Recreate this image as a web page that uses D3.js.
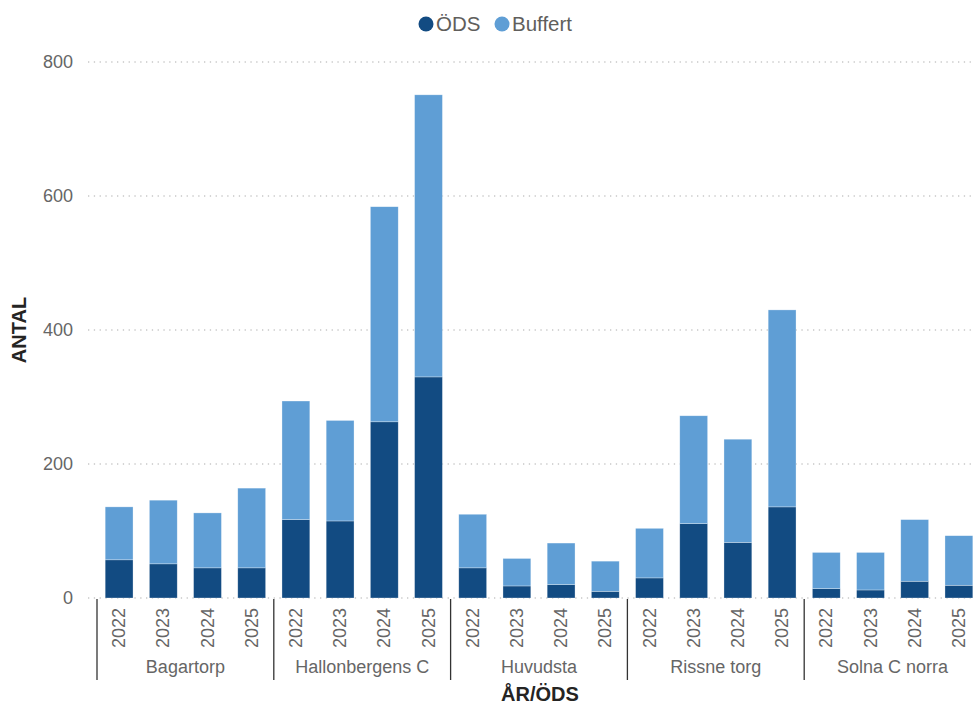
<!DOCTYPE html>
<html>
<head>
<meta charset="utf-8">
<script src="https://cdn.jsdelivr.net/npm/d3@7"></script>
<style>
  body { margin: 0; background: #fff; }
  text { font-family: "Liberation Sans", Arial, sans-serif; }
</style>
</head>
<body>
<div id="chart"></div>
<script>
// data
const groups = ["Bagartorp", "Hallonbergens C", "Huvudsta", "Rissne torg", "Solna C norra"];
const years = ["2022", "2023", "2024", "2025"];
const ods = [57, 51, 45, 45, 117, 115, 263, 330, 45, 18, 20, 10, 30, 111, 83, 136, 14, 12, 25, 19];
const buffert = [79, 95, 82, 119, 177, 150, 321, 421, 80, 41, 62, 45, 74, 161, 154, 294, 54, 56, 92, 74];
const yTicks = [0, 200, 400, 600, 800];

const W = 974, H = 706;
const margin = { top: 62, right: -7, bottom: 108, left: 97 };
const width = W - margin.left - margin.right,
    height = H - margin.top - margin.bottom;

const C_ODS = "#124b82", C_BUF = "#5f9ed5";

const rows = [];
groups.forEach((g, gi) => years.forEach((y, yi) => {
    const i = gi * years.length + yi;
    rows.push({ key: g + "|" + y, group: g, year: y, ods: ods[i], buffert: buffert[i] });
}));

const svg = d3.select("#chart").append("svg")
    .attr("width", W)
    .attr("height", H);

const g = svg.append("g")
    .attr("transform", `translate(${margin.left},${margin.top})`);

const x = d3.scaleBand()
    .domain(rows.map(d => d.key))
    .range([0, width])
    .paddingInner(0.37)
    .paddingOuter(0.185);

const y = d3.scaleLinear()
    .domain([0, 800])
    .range([height, 0]);

// gridlines
g.append("g")
    .selectAll("line")
    .data(yTicks)
    .enter().append("line")
    .attr("x1", -9)
    .attr("x2", width)
    .attr("y1", d => y(d))
    .attr("y2", d => y(d))
    .attr("stroke", "#c8c8c8")
    .attr("stroke-width", 1.3)
    .attr("stroke-dasharray", "1.3 4.5");

// y tick labels
g.append("g")
    .selectAll("text")
    .data(yTicks)
    .enter().append("text")
    .attr("x", -24)
    .attr("y", d => y(d))
    .attr("dy", "0.35em")
    .attr("text-anchor", "end")
    .attr("font-size", 18)
    .attr("fill", "#666")
    .text(d => d);

// stacked bars
const stack = d3.stack().keys(["ods", "buffert"])(rows);
const colors = { ods: C_ODS, buffert: C_BUF };
g.append("g")
    .selectAll("g")
    .data(stack)
    .enter().append("g")
    .attr("fill", s => colors[s.key])
    .selectAll("rect")
    .data(s => s)
    .enter().append("rect")
    .attr("x", d => x(d.data.key))
    .attr("width", x.bandwidth())
    .attr("y", d => y(d[1]))
    .attr("height", d => y(d[0]) - y(d[1]))
    .attr("stroke", "#fff")
    .attr("stroke-opacity", 0.5)
    .attr("stroke-width", 0.6);

// year labels
g.append("g")
    .selectAll("text")
    .data(rows)
    .enter().append("text")
    .attr("transform", d => `translate(${x(d.key) + x.bandwidth() / 2 + 6},${height + 10}) rotate(-90)`)
    .attr("text-anchor", "end")
    .attr("font-size", 18)
    .attr("fill", "#666")
    .text(d => d.year);

// group separators and labels
const groupW = x.step() * years.length;
g.append("g")
    .selectAll("line")
    .data(groups)
    .enter().append("line")
    .attr("x1", (d, i) => i * groupW)
    .attr("x2", (d, i) => i * groupW)
    .attr("y1", height + 1)
    .attr("y2", height + 82)
    .attr("stroke", "#333")
    .attr("stroke-width", 1.3);

g.append("g")
    .selectAll("text")
    .data(groups)
    .enter().append("text")
    .attr("x", (d, i) => i * groupW + groupW / 2)
    .attr("y", height + 75)
    .attr("text-anchor", "middle")
    .attr("font-size", 18)
    .attr("fill", "#666")
    .text(d => d);

// axis titles
svg.append("text")
    .attr("transform", `translate(26, ${margin.top + height / 2}) rotate(-90)`)
    .attr("text-anchor", "middle")
    .attr("font-size", 20)
    .attr("font-weight", "bold")
    .attr("fill", "#252423")
    .text("ANTAL");

svg.append("text")
    .attr("x", 540)
    .attr("y", 701)
    .attr("text-anchor", "middle")
    .attr("font-size", 20)
    .attr("font-weight", "bold")
    .attr("fill", "#252423")
    .text("ÅR/ÖDS");

// legend
const legend = svg.append("g").attr("transform", "translate(426, 24)");
const items = [{ name: "ÖDS", color: C_ODS, x: 0 }, { name: "Buffert", color: C_BUF, x: 76 }];
const li = legend.selectAll("g")
    .data(items)
    .enter().append("g")
    .attr("transform", d => `translate(${d.x},0)`);
li.append("circle")
    .attr("r", 7.5)
    .attr("fill", d => d.color);
li.append("text")
    .attr("x", 10)
    .attr("dy", "0.35em")
    .attr("font-size", 20.5)
    .attr("fill", "#605e5c")
    .text(d => d.name);
</script>
</body>
</html>
